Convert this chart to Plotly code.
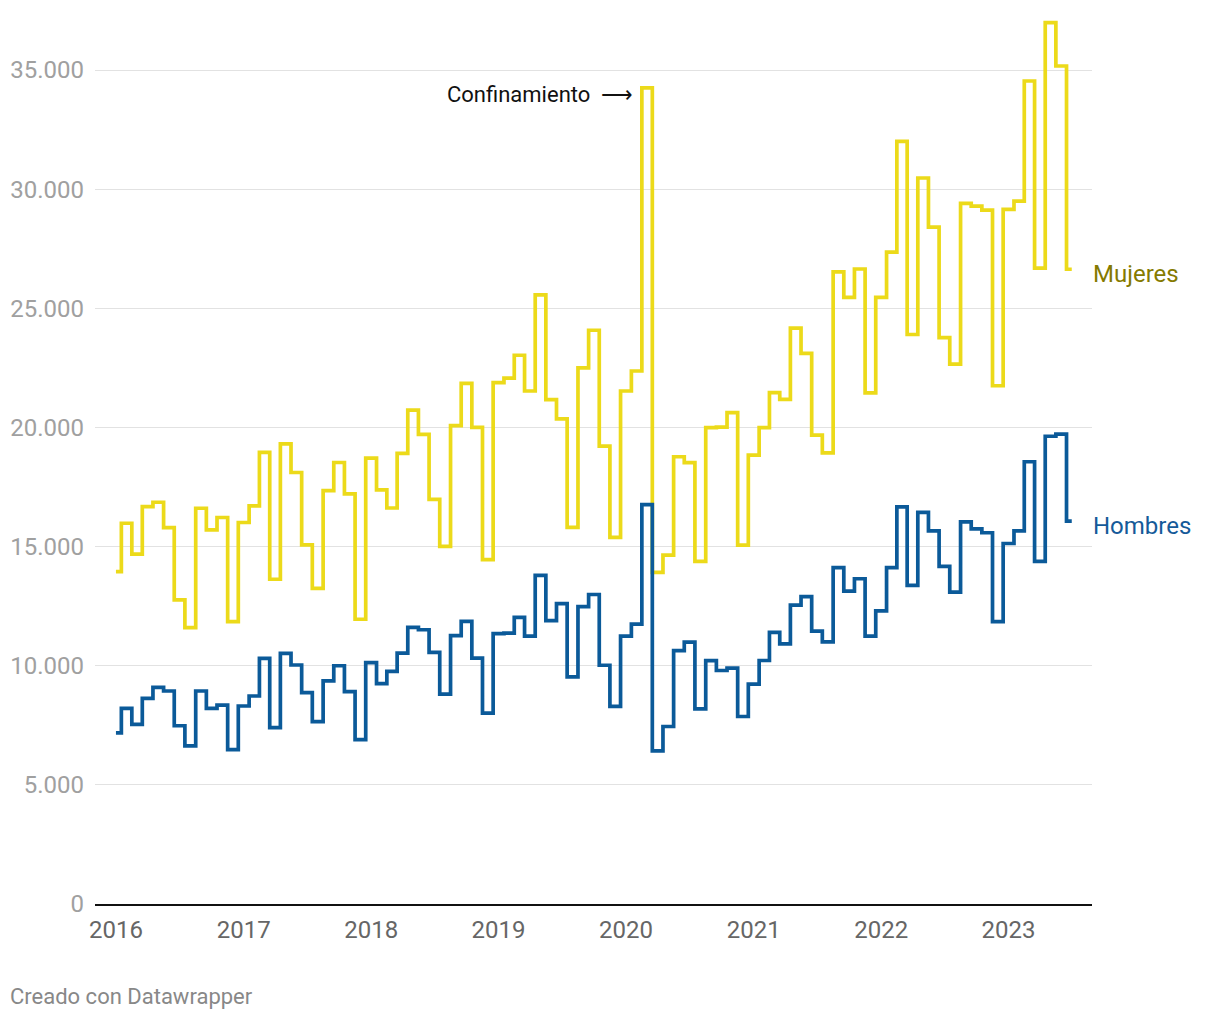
import pandas as pd
import plotly.graph_objects as go

# Monthly data, Jan 2016 - Jul 2023
months = pd.date_range("2016-01-01", periods=91, freq="MS")

mujeres = [
    13950, 15980, 14680, 16680, 16860, 15800, 12760, 11600, 16610, 15700, 16220, 11850,
    16010, 16710, 18950, 13630, 19310, 18110, 15070, 13250, 17350, 18530, 17210, 11950,
    18710, 17380, 16620, 18910, 20730, 19710, 16980, 15010, 20080, 21850, 20000, 14450,
    21880, 22070, 23030, 21530, 25560, 21170, 20360, 15810, 22500, 24080, 19220, 15390,
    21530, 22370, 34250, 13920, 14640, 18770, 18520, 14380, 19990, 20010, 20620, 15060,
    18840, 19990, 21460, 21180, 24170, 23110, 19680, 18930, 26530, 25460, 26650, 21450,
    25460, 27360, 32010, 23900, 30470, 28410, 23770, 22660, 29400, 29290, 29120, 21750,
    29150, 29500, 34540, 26690, 36990, 35170, 26640,
]

hombres = [
    7180, 8210, 7540, 8630, 9090, 8940, 7480, 6640, 8940, 8210, 8350, 6480,
    8310, 8730, 10310, 7400, 10520, 10030, 8870, 7650, 9360, 10000, 8910, 6900,
    10130, 9250, 9760, 10530, 11610, 11510, 10560, 8810, 11260, 11860, 10320, 8010,
    11350, 11370, 12030, 11240, 13790, 11890, 12610, 9530, 12480, 12990, 10020, 8290,
    11240, 11750, 16760, 6430, 7450, 10630, 10990, 8190, 10210, 9800, 9900, 7870,
    9230, 10220, 11400, 10920, 12540, 12900, 11450, 11000, 14120, 13130, 13650, 11240,
    12300, 14120, 16670, 13370, 16440, 15660, 14170, 13090, 16040, 15740, 15580, 11850,
    15130, 15660, 18560, 14380, 19630, 19720, 16070,
]

y_ticks = [0, 5000, 10000, 15000, 20000, 25000, 30000, 35000]
y_tick_labels = ["0", "5.000", "10.000", "15.000", "20.000", "25.000", "30.000", "35.000"]

YELLOW = "#ecda1a"
BLUE = "#0b5a99"
FONT = "Roboto"

fig = go.Figure()
fig.add_trace(go.Scatter(x=months, y=mujeres, mode="lines", name="Mujeres",
                         line=dict(color=YELLOW, width=3.7, shape="hvh"),
                         hoverinfo="skip"))
fig.add_trace(go.Scatter(x=months, y=hombres, mode="lines", name="Hombres",
                         line=dict(color=BLUE, width=3.7, shape="hvh"),
                         hoverinfo="skip"))

fig.update_layout(
    width=1220, height=1020,
    margin=dict(l=95, r=128, t=20, b=116, autoexpand=False),
    paper_bgcolor="white", plot_bgcolor="white",
    showlegend=False,
    font=dict(family=FONT, size=21, color="#333333"),
)
fig.update_xaxes(
    range=["2015-11-02", "2023-08-28"],
    tickformat="%Y", dtick="M12", tick0="2016-01-01",
    showgrid=False, showline=True, linecolor="#111111", linewidth=2,
    ticks="", ticklabelstandoff=3, automargin=False,
    tickfont=dict(family=FONT, size=24, color="#666666"),
    zeroline=False,
)
fig.update_yaxes(
    range=[0, 37100],
    tickvals=y_ticks, ticktext=y_tick_labels,
    showgrid=True, gridcolor="#e2e2e2", gridwidth=1,
    zeroline=False, showline=False, ticks="",
    ticklabelstandoff=10, automargin=False,
    tickfont=dict(family=FONT, size=24, color="#a0a0a0"),
)

fig.add_annotation(x=months[-1], y=mujeres[-1], text="Mujeres", showarrow=False,
                   xanchor="left", yanchor="middle", xshift=19, yshift=-5,
                   font=dict(family=FONT, size=24, color="#857a00"))
fig.add_annotation(x=months[-1], y=hombres[-1], text="Hombres", showarrow=False,
                   xanchor="left", yanchor="middle", xshift=19, yshift=-5,
                   font=dict(family=FONT, size=24, color="#155a99"))
fig.add_annotation(x=months[50], y=mujeres[50], text="Confinamiento  ⟶", showarrow=False,
                   xanchor="right", yanchor="middle", xshift=-12, yshift=-7,
                   font=dict(family=FONT, size=22, color="#111111"))
fig.add_annotation(xref="paper", yref="paper", x=-0.0873, y=-0.105,
                   text="Creado con Datawrapper", showarrow=False,
                   xanchor="left", yanchor="middle",
                   font=dict(family=FONT, size=22, color="#888888"))

fig.write_html("out.html", config={"displayModeBar": False},
               post_script="document.body.style.margin='0px';")
